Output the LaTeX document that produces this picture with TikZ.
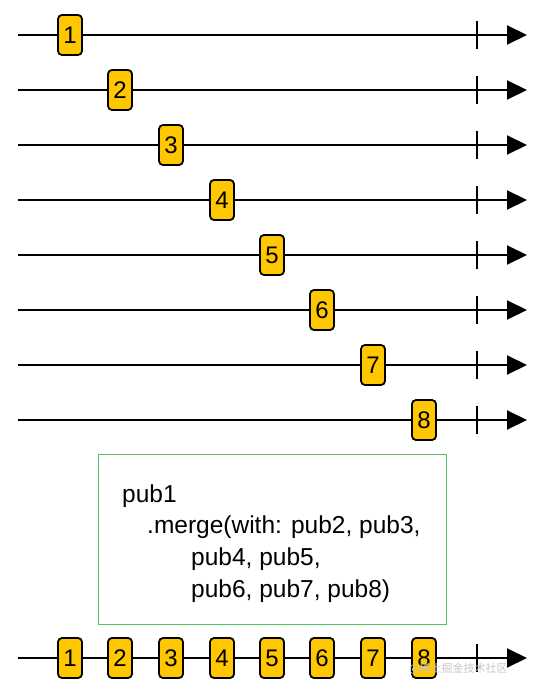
\documentclass[tikz,border=0pt]{standalone}
\usepackage{fontspec}
\setmainfont{Liberation Sans}
\newfontfamily\cjk{Noto Sans CJK SC}
\usetikzlibrary{arrows.meta}
\definecolor{ev}{RGB}{255,199,0}
\definecolor{gbox}{RGB}{80,196,96}
\tikzset{
  evt/.style={draw=black, line width=1.8pt, fill=ev, rounded corners=4pt,
    minimum width=24pt, minimum height=40pt, inner sep=0pt,
    font=\fontsize{24}{24}\selectfont},
  tl/.style={line width=2pt, -{Triangle[length=20pt,width=19pt]}},
  tick/.style={line width=1.8pt},
  code/.style={anchor=base west, inner sep=0pt, font=\fontsize{24.5}{24.5}\selectfont}
}
\begin{document}
\begin{tikzpicture}[x=1pt,y=-1pt]
\useasboundingbox (0,0) rectangle (545,695);
\foreach \i/\x in {1/70,2/120,3/171,4/222,5/272,6/322,7/373,8/424}{
  \pgfmathsetmacro{\yy}{35+55*(\i-1)}
  \coordinate (s\i) at (18,\yy);
  \coordinate (e\i) at (527,\yy);
  \draw[tl] (s\i) -- (e\i);
  \draw[tick] (477,\yy-14) -- (477,\yy+14);
  \node[evt] (b\i) at (\x,\yy) {\i};
}
\node[draw=gbox, line width=1pt, minimum width=348pt, minimum height=170pt, inner sep=0pt] (box) at (272,539) {};
\node[code] (c1) at (122,502) {pub1};
\node[code] (c2) at (147,533) {.merge(with: pub2, pub3,};
\node[code] (c3) at (191,565) {pub4, pub5,};
\node[code] (c4) at (191,597) {pub6, pub7, pub8)};
\coordinate (ms) at (18,658);
\coordinate (me) at (527,658);
\draw[tl] (ms) -- (me);
\draw[tick] (477,644) -- (477,672);
\foreach \i/\x in {1/70,2/120,3/171,4/222,5/272,6/322,7/373,8/424}{
  \node[evt] (m\i) at (\x,658) {\i};
}
\node[anchor=west, inner sep=0pt, text=gray!45, font=\cjk\fontsize{11}{11}\selectfont] (wm) at (409,669) {@稀土掘金技术社区};
\end{tikzpicture}
\end{document}
